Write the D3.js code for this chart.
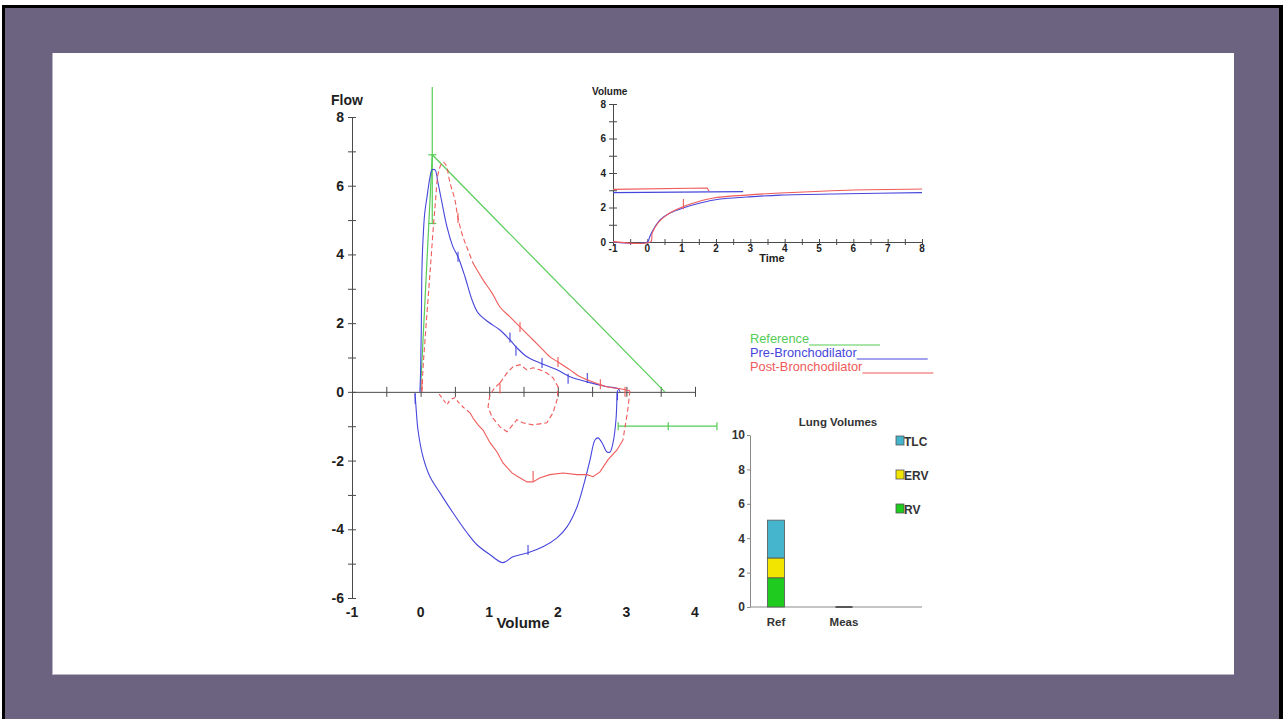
<!DOCTYPE html>
<html>
<head>
<meta charset="utf-8">
<script src="https://cdn.jsdelivr.net/npm/d3@7/dist/d3.min.js"></script>
<style>
  html, body { margin: 0; padding: 0; background: #ffffff; }
  svg { display: block; }
  text { font-family: "Liberation Sans", Arial, sans-serif; }
</style>
</head>
<body>
<svg id="chart" width="1283" height="719"></svg>
<script>
// ---------------- DATA ----------------
// Flow-volume loop (volume L, flow L/s)
const flowTickValues = [-6,-5,-4,-3,-2,-1,0,1,2,3,4,5,6,7,8];
const flowTickLabels = [-6,-4,-2,0,2,4,6,8];
const volumeTickValues = [-0.5,0,0.5,1,1.5,2,2.5,3,3.5,4];
const volumeTickLabels = [-1,0,1,2,3,4];

const refPefRise   = [[0.0,0.1],[0.17,6.9]];
const refPefSlope  = [[0.17,6.9],[3.56,0]];
const refPefRange  = [[0.17,4.9],[0.17,8.87]];
const refPefMarks  = [6.9,4.9];
const refFvcRange  = [[2.88,-1.0],[4.32,-1.0]];
const refFvcMarks  = [2.88,3.61,4.32];

const preExp = [[-0.01,0],[0.0,0.6],[0.01,1.8],[0.02,3.6],[0.035,4.42],[0.06,5.2],[0.093,5.67],[0.137,6.25],[0.166,6.46],[0.21,6.46],[0.254,6.08],[0.312,5.5],[0.385,4.8],[0.472,4.22],[0.545,3.93],[0.647,3.35],[0.749,2.68],[0.837,2.3],[0.983,2.04],[1.157,1.8],[1.303,1.51],[1.405,1.28],[1.551,1.02],[1.74,0.84],[1.988,0.64],[2.178,0.44],[2.426,0.29],[2.717,0.15],[2.878,0.09],[2.907,0]];
const preInsp = [[-0.082,-0.03],[-0.067,-0.44],[-0.038,-1.11],[0.035,-1.89],[0.137,-2.47],[0.283,-2.94],[0.472,-3.52],[0.676,-4.1],[0.822,-4.45],[1.012,-4.74],[1.201,-4.97],[1.347,-4.8],[1.566,-4.68],[1.784,-4.51],[1.988,-4.25],[2.134,-3.93],[2.28,-3.35],[2.397,-2.56],[2.47,-1.98],[2.542,-1.4],[2.586,-1.34],[2.644,-1.48],[2.717,-1.75],[2.761,-1.75],[2.805,-1.48],[2.848,-0.81],[2.863,-0.03]];
const preMarks = [[-0.08,-0.2],[0.545,3.93],[1.303,1.58],[1.39,1.2],[1.77,0.84],[2.15,0.38],[2.43,0.4],[2.87,-0.1],[1.566,-4.6]];

const postExpDash = [[0.02,0.0],[0.03,0.5],[0.064,1.51],[0.137,3.46],[0.21,5.38],[0.268,6.46],[0.327,6.69],[0.37,6.6],[0.429,6.08],[0.5,5.59],[0.545,5.06],[0.618,4.51],[0.69,4.13],[0.764,3.75]];
const postExpSolid = [[0.764,3.75],[0.91,3.26],[1.04,2.88],[1.157,2.47],[1.303,2.18],[1.449,1.89],[1.595,1.6],[1.741,1.31],[1.886,1.02],[2.003,0.87],[2.178,0.64],[2.324,0.44],[2.513,0.29],[2.717,0.15],[2.907,0.09],[3.05,0.03]];
const postInspDashA = [[3.05,0.03],[3.02,-0.52],[2.98,-1.02],[2.95,-1.4]];
const postInspSolid = [[2.95,-1.4],[2.863,-1.69],[2.73,-1.98],[2.615,-2.33],[2.513,-2.47],[2.426,-2.41],[2.28,-2.41],[2.076,-2.36],[1.886,-2.41],[1.741,-2.5],[1.638,-2.62],[1.551,-2.62],[1.42,-2.47],[1.332,-2.36],[1.201,-2.07],[1.114,-1.75],[1.012,-1.48],[0.91,-1.11],[0.837,-0.96],[0.764,-0.76],[0.72,-0.61]];
const postInspDashB = [[0.72,-0.61],[0.618,-0.44],[0.55,-0.3],[0.5,-0.17],[0.429,-0.23],[0.385,-0.38],[0.312,-0.17],[0.254,-0.03]];
const postLoop = [[1.157,0.26],[1.26,0.55],[1.347,0.73],[1.449,0.79],[1.551,0.64],[1.64,0.7],[1.741,0.64],[1.84,0.55],[1.93,0.41],[2.003,0.15],[1.99,-0.23],[1.93,-0.61],[1.84,-0.9],[1.64,-0.96],[1.49,-0.9],[1.405,-0.81],[1.26,-1.16],[1.157,-1.02],[1.04,-0.73],[0.983,-0.44],[1.01,-0.09],[1.08,0.12],[1.157,0.26]];
const postMarks = [[0.02,0.2],[0.545,5.06],[1.449,1.89],[2.003,0.87],[2.62,0.22],[2.98,0.0],[1.64,-2.45],[1.157,0.1]];

// Volume-time inset (time s, volume L)
const timeTickValues = [-1,-0.5,0,0.5,1,1.5,2,2.5,3,3.5,4,4.5,5,5.5,6,6.5,7,7.5,8];
const timeTickLabels = [-1,0,1,2,3,4,5,6,7,8];
const vtVolTickValues = [0,1,2,3,4,5,6,7,8];
const vtVolTickLabels = [0,2,4,6,8];

const preVT = [[-1,0],[0,0],[0.07,0.3],[0.14,0.6],[0.37,1.28],[0.66,1.68],[1.04,1.97],[1.54,2.26],[2.12,2.49],[2.9,2.61],[3.87,2.72],[5.8,2.8],[8,2.86]];
const preVTflat = [[-1,2.86],[2.79,2.92]];
const postVT = [[-1,0.02],[0.1,0.02],[0.14,0.5],[0.31,1.1],[0.57,1.57],[0.95,1.97],[1.45,2.32],[1.92,2.55],[2.9,2.72],[3.87,2.84],[5.82,3.0],[8,3.07]];
const postVTflat = [[-1,3.05],[1.74,3.13],[1.8,2.95]];
const postVTmark = [[1.05,1.9],[1.05,2.5]];

// Lung volumes
const lvCategories = ["Ref","Meas"];
const lvRV  = [1.7, 0];
const lvERV = [1.15, 0];
const lvTLC = [2.2, 0];
const lvTicks = [0,2,4,6,8,10];
const lvLegend = ["TLC","ERV","RV"];

// ---------------- STYLE ----------------
const C = {
  blue: "#4646dc", red: "#f05a5a", green: "#55cc55",
  axis: "#4a4a4a", text: "#1e1e1e",
  tlc: "#45b5cd", erv: "#f2e600", rv: "#1fcb1f"
};

const svg = d3.select("#chart");

// Background frame
svg.append("rect").attr("x",0).attr("y",0).attr("width",1283).attr("height",719).attr("fill","#ffffff");
svg.append("rect").attr("x",2).attr("y",5).attr("width",1281).attr("height",714).attr("fill","#000000");
svg.append("rect").attr("x",5).attr("y",8).attr("width",1274).attr("height",711).attr("fill","#6b6380");
svg.append("rect").attr("x",52).attr("y",53).attr("width",1182).attr("height",622).attr("fill","#b9b3c6");
svg.append("rect").attr("x",53).attr("y",53).attr("width",1181).attr("height",621).attr("fill","#ffffff");

// ---------------- MAIN FLOW-VOLUME ----------------
const x = d3.scaleLinear().domain([-1,4]).range([352,695]);
const y = d3.scaleLinear().domain([-6,8]).range([598,117]);
const line = d3.line().x(d => x(d[0])).y(d => y(d[1]));
const smooth = d3.line().x(d => x(d[0])).y(d => y(d[1])).curve(d3.curveCatmullRom.alpha(0.5));

const gY = svg.append("g").attr("transform", `translate(${x(-1)},0)`)
  .call(d3.axisLeft(y).tickValues(flowTickValues).tickSize(4).tickSizeOuter(0)
        .tickPadding(4).tickFormat(d => flowTickLabels.includes(d) ? d : ""));
gY.selectAll("line").attr("x1",4);
gY.selectAll("path, line").attr("stroke", C.axis);
gY.selectAll("text").attr("font-size",14).attr("font-weight","bold").attr("fill",C.text);

const gX = svg.append("g").attr("transform", `translate(0,${y(0)})`)
  .call(d3.axisBottom(x).tickValues(volumeTickValues).tickSize(5).tickSizeOuter(0).tickFormat(""));
gX.selectAll("line").attr("y1",-5);
gX.selectAll("path, line").attr("stroke", C.axis);

svg.append("g").selectAll("text").data(volumeTickLabels).join("text")
  .attr("x", d => x(d)).attr("y", 617).attr("text-anchor","middle")
  .attr("font-size",14).attr("font-weight","bold").attr("fill",C.text).text(d => d);

svg.append("text").attr("x",331).attr("y",105).attr("font-size",14).attr("font-weight","bold")
  .attr("fill",C.text).text("Flow");
svg.append("text").attr("x",523).attr("y",628).attr("text-anchor","middle").attr("font-size",15)
  .attr("font-weight","bold").attr("fill",C.text).text("Volume");

// Reference (green)
const gRef = svg.append("g").attr("fill","none").attr("stroke",C.green).attr("stroke-width",1.2);
[refPefRise, refPefSlope, refPefRange, refFvcRange].forEach(p => gRef.append("path").attr("d", line(p)));
refPefMarks.forEach(f => gRef.append("line").attr("x1",x(0.17)-4).attr("x2",x(0.17)+4).attr("y1",y(f)).attr("y2",y(f)));
refFvcMarks.forEach(v => gRef.append("line").attr("x1",x(v)).attr("x2",x(v)).attr("y1",y(-1)-4).attr("y2",y(-1)+4));

// Pre (blue)
const gPre = svg.append("g").attr("fill","none").attr("stroke",C.blue).attr("stroke-width",1.1);
gPre.append("path").attr("d", smooth(preExp));
gPre.append("path").attr("d", smooth(preInsp));
preMarks.forEach(p => gPre.append("line").attr("x1",x(p[0])).attr("x2",x(p[0])).attr("y1",y(p[1])-5).attr("y2",y(p[1])+5));

// Post (red)
const gPost = svg.append("g").attr("fill","none").attr("stroke",C.red).attr("stroke-width",1.1);
gPost.append("path").attr("d", smooth(postExpDash)).attr("stroke-dasharray","5,3");
gPost.append("path").attr("d", smooth(postExpSolid));
gPost.append("path").attr("d", smooth(postInspDashA)).attr("stroke-dasharray","5,3");
gPost.append("path").attr("d", line(postInspSolid));
gPost.append("path").attr("d", line(postInspDashB)).attr("stroke-dasharray","4,3");
gPost.append("path").attr("d", line(postLoop)).attr("stroke-dasharray","5,3");
postMarks.forEach(p => gPost.append("line").attr("x1",x(p[0])).attr("x2",x(p[0])).attr("y1",y(p[1])-5).attr("y2",y(p[1])+5));

// ---------------- VOLUME-TIME INSET ----------------
const xt = d3.scaleLinear().domain([-1,8]).range([613,922]);
const yt = d3.scaleLinear().domain([0,8]).range([242,104]);
const lineT = d3.line().x(d => xt(d[0])).y(d => yt(d[1]));
const smoothT = d3.line().x(d => xt(d[0])).y(d => yt(d[1])).curve(d3.curveCatmullRom.alpha(0.5));

const gTY = svg.append("g").attr("transform", `translate(${xt(-1)},0)`)
  .call(d3.axisLeft(yt).tickValues(vtVolTickValues).tickSize(4).tickSizeOuter(0).tickPadding(3)
        .tickFormat(d => vtVolTickLabels.includes(d) ? d : ""));
gTY.selectAll("line").attr("x1",4);
gTY.selectAll("path, line").attr("stroke",C.axis);
gTY.selectAll("text").attr("font-size",10).attr("font-weight","bold").attr("fill",C.text);

const gTX = svg.append("g").attr("transform", `translate(0,${yt(0)})`)
  .call(d3.axisBottom(xt).tickValues(timeTickValues).tickSize(3).tickSizeOuter(0).tickFormat(""));
gTX.selectAll("line").attr("y1",-3);
gTX.selectAll("path, line").attr("stroke",C.axis);
svg.append("g").selectAll("text").data(timeTickLabels).join("text")
  .attr("x", d => xt(d)).attr("y", 252).attr("text-anchor","middle")
  .attr("font-size",10).attr("font-weight","bold").attr("fill",C.text).text(d => d);
svg.append("text").attr("x",592).attr("y",95).attr("font-size",10).attr("font-weight","bold").attr("fill",C.text).text("Volume");
svg.append("text").attr("x",772).attr("y",262).attr("text-anchor","middle").attr("font-size",11).attr("font-weight","bold").attr("fill",C.text).text("Time");

const gVT = svg.append("g").attr("fill","none").attr("stroke-width",1.1);
gVT.append("path").attr("d", smoothT(preVT)).attr("stroke",C.blue);
gVT.append("path").attr("d", lineT(preVTflat)).attr("stroke",C.blue);
gVT.append("path").attr("d", smoothT(postVT)).attr("stroke",C.red);
gVT.append("path").attr("d", lineT(postVTflat)).attr("stroke",C.red);
gVT.append("path").attr("d", lineT(postVTmark)).attr("stroke",C.red);

// ---------------- LEGEND ----------------
const legendItems = [
  {label:"Reference", color:C.green, y:343},
  {label:"Pre-Bronchodilator", color:C.blue, y:357},
  {label:"Post-Bronchodilator", color:C.red, y:371}
];
const gLeg = svg.append("g");
legendItems.forEach(it => {
  const t = gLeg.append("text").attr("x",750).attr("y",it.y).attr("font-size",12.8)
    .attr("fill",it.color).text(it.label);
  const w = t.node().getComputedTextLength();
  gLeg.append("line").attr("x1",750+w).attr("x2",750+w+71).attr("y1",it.y+2).attr("y2",it.y+2)
    .attr("stroke",it.color).attr("stroke-width",1.2);
});

// ---------------- LUNG VOLUMES ----------------
const xl = d3.scalePoint().domain(lvCategories).range([776,844]);
const yl = d3.scaleLinear().domain([0,10]).range([607,435]);
const barW = 17;

svg.append("text").attr("x",838).attr("y",426).attr("text-anchor","middle").attr("font-size",11.5)
  .attr("font-weight","bold").attr("fill","#333").text("Lung Volumes");

const gLY = svg.append("g").attr("transform","translate(750,0)")
  .call(d3.axisLeft(yl).tickValues(lvTicks).tickSize(3).tickSizeOuter(0).tickPadding(2));
gLY.selectAll("path, line").attr("stroke","#8a8a8a");
gLY.selectAll("text").attr("font-size",12).attr("font-weight","bold").attr("fill","#333");
svg.append("line").attr("x1",750).attr("x2",922).attr("y1",yl(0)).attr("y2",yl(0)).attr("stroke","#8a8a8a");
svg.append("g").selectAll("text").data(lvCategories).join("text")
  .attr("x", d => xl(d)).attr("y", 626).attr("text-anchor","middle").attr("font-size",11.5)
  .attr("font-weight","bold").attr("fill","#333").text(d => d);

const lvRows = lvCategories.map((c,i) => ({cat:c, RV:lvRV[i], ERV:lvERV[i], TLC:lvTLC[i]}));
const stacked = d3.stack().keys(["RV","ERV","TLC"])(lvRows);
const colorOf = {RV:C.rv, ERV:C.erv, TLC:C.tlc};
stacked.forEach(layer => {
  svg.append("g").selectAll("rect").data(layer.filter(d => d[1] > d[0])).join("rect")
    .attr("x", d => xl(d.data.cat) - barW/2).attr("width", barW)
    .attr("y", d => yl(d[1])).attr("height", d => yl(d[0]) - yl(d[1]))
    .attr("fill", colorOf[layer.key]).attr("stroke","#555").attr("stroke-width",0.8);
});
lvRows.filter(r => r.RV + r.ERV + r.TLC === 0).forEach(r => {
  svg.append("line").attr("x1", xl(r.cat) - barW/2).attr("x2", xl(r.cat) + barW/2)
    .attr("y1", yl(0)).attr("y2", yl(0)).attr("stroke","#333").attr("stroke-width",1.5);
});

const gLL = svg.append("g");
lvLegend.forEach((k,i) => {
  const yy = 436 + i*34;
  gLL.append("rect").attr("x",896).attr("y",yy).attr("width",8).attr("height",9)
    .attr("fill",colorOf[k]).attr("stroke","#555").attr("stroke-width",0.8);
  gLL.append("text").attr("x",904).attr("y",yy+10).attr("font-size",12).attr("font-weight","bold")
    .attr("fill","#333").text(k);
});
</script>
</body>
</html>
